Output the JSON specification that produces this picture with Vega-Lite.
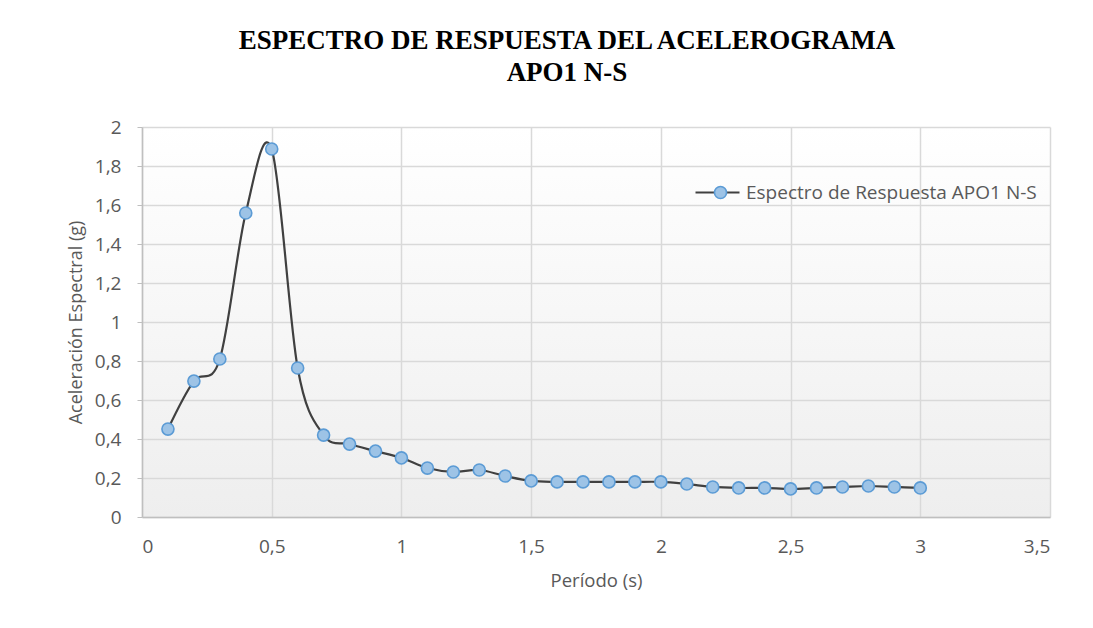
{
  "$schema": "https://vega.github.io/schema/vega-lite/v6.json",
  "autosize": "none",
  "width": 908,
  "height": 390,
  "padding": {"left": 142, "top": 127, "right": 43, "bottom": 111},
  "background": "#ffffff",
  "title": {
    "text": ["ESPECTRO DE RESPUESTA DEL ACELEROGRAMA", "APO1 N-S"],
    "font": "Liberation Serif",
    "fontSize": 27,
    "fontWeight": "bold",
    "color": "#000000",
    "anchor": "middle",
    "dx": -29,
    "offset": 31,
    "lineHeight": 32
  },
  "data": {
    "values": [
      {"periodo": 0.1, "sa": 0.451, "serie": "Espectro de Respuesta APO1 N-S"},
      {"periodo": 0.2, "sa": 0.697, "serie": "Espectro de Respuesta APO1 N-S"},
      {"periodo": 0.3, "sa": 0.81, "serie": "Espectro de Respuesta APO1 N-S"},
      {"periodo": 0.4, "sa": 1.559, "serie": "Espectro de Respuesta APO1 N-S"},
      {"periodo": 0.5, "sa": 1.887, "serie": "Espectro de Respuesta APO1 N-S"},
      {"periodo": 0.6, "sa": 0.764, "serie": "Espectro de Respuesta APO1 N-S"},
      {"periodo": 0.7, "sa": 0.42, "serie": "Espectro de Respuesta APO1 N-S"},
      {"periodo": 0.8, "sa": 0.374, "serie": "Espectro de Respuesta APO1 N-S"},
      {"periodo": 0.9, "sa": 0.338, "serie": "Espectro de Respuesta APO1 N-S"},
      {"periodo": 1.0, "sa": 0.303, "serie": "Espectro de Respuesta APO1 N-S"},
      {"periodo": 1.1, "sa": 0.251, "serie": "Espectro de Respuesta APO1 N-S"},
      {"periodo": 1.2, "sa": 0.231, "serie": "Espectro de Respuesta APO1 N-S"},
      {"periodo": 1.3, "sa": 0.241, "serie": "Espectro de Respuesta APO1 N-S"},
      {"periodo": 1.4, "sa": 0.21, "serie": "Espectro de Respuesta APO1 N-S"},
      {"periodo": 1.5, "sa": 0.185, "serie": "Espectro de Respuesta APO1 N-S"},
      {"periodo": 1.6, "sa": 0.18, "serie": "Espectro de Respuesta APO1 N-S"},
      {"periodo": 1.7, "sa": 0.18, "serie": "Espectro de Respuesta APO1 N-S"},
      {"periodo": 1.8, "sa": 0.18, "serie": "Espectro de Respuesta APO1 N-S"},
      {"periodo": 1.9, "sa": 0.18, "serie": "Espectro de Respuesta APO1 N-S"},
      {"periodo": 2.0, "sa": 0.18, "serie": "Espectro de Respuesta APO1 N-S"},
      {"periodo": 2.1, "sa": 0.169, "serie": "Espectro de Respuesta APO1 N-S"},
      {"periodo": 2.2, "sa": 0.154, "serie": "Espectro de Respuesta APO1 N-S"},
      {"periodo": 2.3, "sa": 0.149, "serie": "Espectro de Respuesta APO1 N-S"},
      {"periodo": 2.4, "sa": 0.149, "serie": "Espectro de Respuesta APO1 N-S"},
      {"periodo": 2.5, "sa": 0.144, "serie": "Espectro de Respuesta APO1 N-S"},
      {"periodo": 2.6, "sa": 0.149, "serie": "Espectro de Respuesta APO1 N-S"},
      {"periodo": 2.7, "sa": 0.154, "serie": "Espectro de Respuesta APO1 N-S"},
      {"periodo": 2.8, "sa": 0.159, "serie": "Espectro de Respuesta APO1 N-S"},
      {"periodo": 2.9, "sa": 0.154, "serie": "Espectro de Respuesta APO1 N-S"},
      {"periodo": 3.0, "sa": 0.149, "serie": "Espectro de Respuesta APO1 N-S"}
    ]
  },
  "encoding": {
    "x": {
      "field": "periodo",
      "type": "quantitative",
      "title": "Período (s)",
      "scale": {"domain": [0, 3.5], "nice": false},
      "axis": {
        "values": [0, 0.5, 1, 1.5, 2, 2.5, 3, 3.5],
        "labelExpr": "replace(format(datum.value, '~g'), '.', ',')",
        "titleFontSize": 18.5,
        "titlePadding": 15
      }
    },
    "y": {
      "field": "sa",
      "type": "quantitative",
      "title": "Aceleración Espectral (g)",
      "scale": {"domain": [0, 2], "nice": false},
      "axis": {
        "values": [0, 0.2, 0.4, 0.6, 0.8, 1, 1.2, 1.4, 1.6, 1.8, 2],
        "labelExpr": "replace(format(datum.value, '~g'), '.', ',')",
        "titleFontSize": 18,
        "titlePadding": 9
      }
    }
  },
  "layer": [
    {
      "mark": {"type": "line", "interpolate": "cardinal", "strokeWidth": 2.2},
      "encoding": {
        "stroke": {
          "field": "serie",
          "type": "nominal",
          "scale": {"range": ["#404040"]},
          "legend": {
            "title": null,
            "orient": "none",
            "legendX": 552,
            "legendY": 42,
            "symbolType": "stroke",
            "symbolSize": 1936,
            "symbolStrokeWidth": 2.2,
            "labelFont": "Open Sans",
            "labelFontSize": 19,
            "labelColor": "#595959",
            "labelOffset": 5,
            "labelLimit": 0,
            "zindex": 1
          }
        }
      }
    },
    {
      "mark": {"type": "point", "filled": true, "size": 145, "stroke": "#5b9bd5", "strokeWidth": 1.6, "opacity": 1},
      "encoding": {
        "fill": {
          "field": "serie",
          "type": "nominal",
          "scale": {"range": ["#9dc3e6"]},
          "legend": {
            "title": null,
            "orient": "none",
            "legendX": 569,
            "legendY": 56,
            "symbolType": "circle",
            "symbolSize": 145,
            "symbolStrokeColor": "#5b9bd5",
            "symbolStrokeWidth": 1.6,
            "symbolOpacity": 1,
            "labelExpr": "''",
            "labelFontSize": 19,
            "zindex": 2
          }
        }
      }
    }
  ],
  "config": {
    "view": {
      "stroke": null,
      "fill": {
        "gradient": "linear",
        "x1": 0, "y1": 0, "x2": 0, "y2": 1,
        "stops": [
          {"offset": 0, "color": "#ffffff"},
          {"offset": 1, "color": "#eeeeee"}
        ]
      }
    },
    "axis": {
      "labelFont": "Open Sans",
      "labelFontSize": 19,
      "labelColor": "#595959",
      "titleFont": "Open Sans",
      "titleFontWeight": "normal",
      "titleColor": "#595959",
      "gridColor": "#d9d9d9",
      "gridWidth": 1.5,
      "domainColor": "#bfbfbf",
      "domainWidth": 1.5,
      "tickColor": "#bfbfbf",
      "tickSize": 5,
      "labelPadding": 16
    },
    "axisX": {"ticks": false, "labelPadding": 20}
  }
}
